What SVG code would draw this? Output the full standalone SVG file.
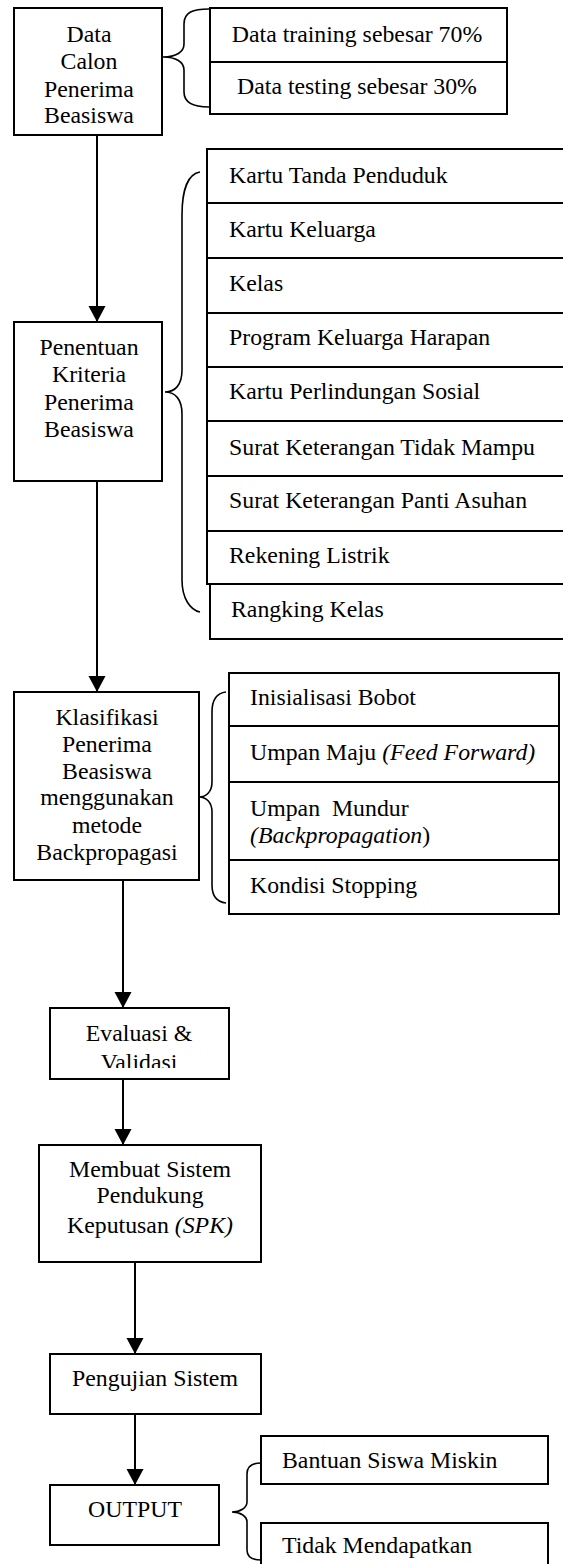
<svg xmlns="http://www.w3.org/2000/svg" width="563" height="1564" viewBox="0 0 563 1564">
<style>
text{font-family:"Liberation Serif","Times New Roman",serif;font-size:23.8px;fill:#000}
.c{text-anchor:middle}
.box{fill:#fff;stroke:#000;stroke-width:2}
.br{fill:none;stroke:#000;stroke-width:1.6}
.ln{fill:none;stroke:#000;stroke-width:2}
.it{font-style:italic}
</style>
<defs>
<marker id="ah" markerUnits="userSpaceOnUse" markerWidth="18" markerHeight="18" refX="16" refY="8.5" orient="auto">
<path d="M0,0 L16,8.5 L0,17 z" fill="#000"/>
</marker>
<clipPath id="evclip"><rect x="50" y="1008" width="179" height="60"/></clipPath>
</defs>
<rect width="563" height="1564" fill="#fff"/>

<g id="connectors">
<line class="ln" x1="97" y1="135" x2="97" y2="322" marker-end="url(#ah)"/>
<line class="ln" x1="97" y1="481" x2="97" y2="692" marker-end="url(#ah)"/>
<line class="ln" x1="123" y1="880" x2="123" y2="1008" marker-end="url(#ah)"/>
<line class="ln" x1="123" y1="1079" x2="123" y2="1145" marker-end="url(#ah)"/>
<line class="ln" x1="135" y1="1262" x2="135" y2="1354" marker-end="url(#ah)"/>
<line class="ln" x1="135" y1="1414" x2="135" y2="1485" marker-end="url(#ah)"/>
<path class="br" d="M209,9 C193,9 184,12 184,24 L184,44 C184,52 176,57 163,57 C176,57 184,62 184,70 L184,92 C184,103 193,107 209,107"/>
<path class="br" d="M200,172 C188,174 182,190 182,215 L182,370 C182,385 175,392 165,392 C175,392 182,399 182,414 L182,580 C182,598 190,610 200,612"/>
<path class="br" d="M226,692 C217,693 212,700 212,712 L212,782 C212,792 206,797 199,797 C206,797 212,802 212,812 L212,885 C212,896 217,902 226,903"/>
<path class="br" d="M261,1463 C252,1463 247,1466 247,1474 L247,1502 C247,1508 240,1512 232,1512 C240,1512 247,1516 247,1522 L247,1550 C247,1557 252,1560 261,1560"/>
</g>

<g id="n-data">
<rect class="box" x="14" y="8" width="148" height="127"/>
<text class="c" x="89" y="42">Data</text>
<text class="c" x="89" y="69">Calon</text>
<text class="c" x="89" y="97">Penerima</text>
<text class="c" x="89" y="123">Beasiswa</text>
</g>
<g id="n-split">
<rect class="box" x="210" y="8" width="297" height="54"/>
<rect class="box" x="210" y="62" width="297" height="52"/>
<text class="c" x="357" y="42">Data training sebesar 70%</text>
<text class="c" x="357" y="94">Data testing sebesar 30%</text>
</g>

<g id="n-kriteria">
<rect class="box" x="14" y="322" width="148" height="159"/>
<text class="c" x="89" y="355">Penentuan</text>
<text class="c" x="89" y="382">Kriteria</text>
<text class="c" x="89" y="410">Penerima</text>
<text class="c" x="89" y="437">Beasiswa</text>
</g>
<g id="n-list">
<rect class="box" x="207" y="149" width="370" height="54"/>
<rect class="box" x="207" y="203" width="370" height="55"/>
<rect class="box" x="207" y="258" width="370" height="55"/>
<rect class="box" x="207" y="313" width="370" height="54"/>
<rect class="box" x="207" y="367" width="370" height="54"/>
<rect class="box" x="207" y="421" width="370" height="55"/>
<rect class="box" x="207" y="476" width="370" height="55"/>
<rect class="box" x="207" y="531" width="370" height="53"/>
<rect class="box" x="210" y="584" width="370" height="55"/>
<text x="229" y="183">Kartu Tanda Penduduk</text>
<text x="229" y="237">Kartu Keluarga</text>
<text x="229" y="291">Kelas</text>
<text x="229" y="345">Program Keluarga Harapan</text>
<text x="229" y="399">Kartu Perlindungan Sosial</text>
<text x="229" y="455">Surat Keterangan Tidak Mampu</text>
<text x="229" y="508">Surat Keterangan Panti Asuhan</text>
<text x="229" y="563">Rekening Listrik</text>
<text x="231" y="617">Rangking Kelas</text>
</g>

<g id="n-klasifikasi">
<rect class="box" x="14" y="692" width="185" height="188"/>
<text class="c" x="107" y="725">Klasifikasi</text>
<text class="c" x="107" y="752">Penerima</text>
<text class="c" x="107" y="779">Beasiswa</text>
<text class="c" x="107" y="805">menggunakan</text>
<text class="c" x="107" y="833">metode</text>
<text class="c" x="107" y="860">Backpropagasi</text>
</g>
<g id="n-steps">
<rect class="box" x="229" y="673" width="330" height="53"/>
<rect class="box" x="229" y="726" width="330" height="56"/>
<rect class="box" x="229" y="782" width="330" height="78"/>
<rect class="box" x="229" y="860" width="330" height="54"/>
<text x="250" y="705">Inisialisasi Bobot</text>
<text x="250" y="760">Umpan Maju <tspan class="it">(Feed Forward)</tspan></text>
<text x="250" y="816" xml:space="preserve">Umpan  Mundur</text>
<text x="250" y="843"><tspan class="it">(Backpropagation</tspan>)</text>
<text x="250" y="893">Kondisi Stopping</text>
</g>

<g id="n-evaluasi">
<rect class="box" x="50" y="1008" width="179" height="71"/>
<g clip-path="url(#evclip)">
<text class="c" x="139" y="1041">Evaluasi &amp;</text>
<text class="c" x="139" y="1070">Validasi</text>
</g>
</g>

<g id="n-spk">
<rect class="box" x="39" y="1145" width="222" height="117"/>
<text class="c" x="150" y="1177">Membuat Sistem</text>
<text class="c" x="150" y="1203">Pendukung</text>
<text class="c" x="150" y="1233">Keputusan <tspan class="it">(SPK)</tspan></text>
</g>

<g id="n-pengujian">
<rect class="box" x="50" y="1354" width="211" height="60"/>
<text class="c" x="155" y="1386">Pengujian Sistem</text>
</g>

<g id="n-output">
<rect class="box" x="50" y="1485" width="169" height="60"/>
<text class="c" x="135" y="1517">OUTPUT</text>
</g>
<g id="n-bantuan">
<rect class="box" x="261" y="1436" width="287" height="48"/>
<text x="282" y="1468">Bantuan Siswa Miskin</text>
</g>
<g id="n-tidak">
<rect class="box" x="261" y="1523" width="287" height="60"/>
<text x="282" y="1553">Tidak Mendapatkan</text>
</g>
</svg>
